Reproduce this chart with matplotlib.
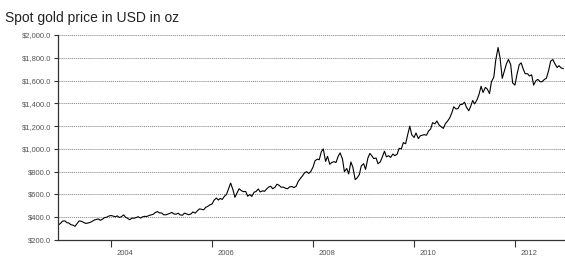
import pandas as pd
import numpy as np
import matplotlib
matplotlib.use('Agg')
import matplotlib.pyplot as plt

# semi-monthly spot gold price (USD/oz)
p2002 = [331]
p2003 = [347, 366, 368, 352, 350, 335, 330, 320, 345, 368, 364, 356,
         346, 348, 354, 362, 375, 380, 385, 373, 384, 397, 400, 410]
p2004 = [415, 410, 404, 412, 398, 404, 420, 400, 389, 378, 393, 391,
         397, 405, 392, 403, 408, 406, 415, 420, 426, 440, 450, 438]
p2005 = [437, 422, 421, 427, 434, 442, 428, 427, 435, 420, 418, 436,
         428, 422, 429, 446, 436, 455, 473, 470, 465, 486, 496, 508]
p2006 = [517, 550, 568, 551, 565, 556, 585, 600, 654, 700, 640, 575,
         615, 650, 633, 625, 626, 585, 599, 583, 620, 626, 648, 622]
p2007 = [632, 627, 650, 665, 672, 650, 663, 690, 680, 664, 664, 655,
         650, 666, 670, 660, 672, 712, 740, 760, 790, 800, 785, 800]
p2008 = [840, 895, 910, 905, 975, 1000, 890, 935, 865, 880, 888, 880,
         935, 965, 912, 800, 828, 780, 885, 840, 730, 745, 775, 850]
p2009 = [870, 820, 920, 960, 940, 915, 920, 870, 885, 925, 980, 930,
         940, 925, 955, 940, 955, 1005, 1000, 1055, 1045, 1120, 1200, 1125]
p2010 = [1100, 1140, 1090, 1115, 1120, 1125, 1120, 1155, 1175, 1230, 1220, 1245,
         1210, 1195, 1180, 1220, 1245, 1270, 1315, 1370, 1350, 1355, 1390, 1390]
p2011 = [1410, 1365, 1335, 1375, 1425, 1395, 1430, 1475, 1550, 1495, 1540, 1525,
         1485, 1590, 1630, 1780, 1890, 1800, 1620, 1680, 1750, 1785, 1740, 1580]
p2012 = [1560, 1650, 1740, 1755, 1700, 1660, 1660, 1640, 1650, 1560, 1600, 1610,
         1590, 1590, 1610, 1620, 1690, 1770, 1785, 1750, 1715, 1730, 1710, 1705]

prices = p2002 + p2003 + p2004 + p2005 + p2006 + p2007 + p2008 + p2009 + p2010 + p2011 + p2012
dates = pd.date_range('2002-12-15', periods=len(prices), freq='SMS')

y_ticks = [200, 400, 600, 800, 1000, 1200, 1400, 1600, 1800, 2000]
x_years = [2004, 2006, 2008, 2010, 2012]

plt.rcParams['font.family'] = ['Liberation Sans', 'DejaVu Sans']

fig = plt.figure(figsize=(5.65, 2.61), dpi=100)
ax = fig.add_axes([58 / 565, 1 - 240 / 261, 507 / 565, 205 / 261])

ax.plot(dates, prices, color='black', linewidth=0.8)

ax.set_ylim(200, 2000)
ax.set_xlim(pd.Timestamp('2002-12-13'), pd.Timestamp('2012-12-28'))

ax.set_yticks(y_ticks)
ax.set_yticklabels(['${:,.1f}'.format(v) for v in y_ticks], fontsize=5.5, color='#555555')
ax.yaxis.grid(True, linestyle=(0, (1.6, 1.2)), color='#666666', linewidth=0.5)

# tick marks on Jan 1, labels sit a bit to the right of them
ax.set_xticks([pd.Timestamp(f'{y}-01-01') for y in x_years])
ax.set_xticklabels([])
ax.set_xticks([pd.Timestamp(f'{y}-04-12') for y in x_years], minor=True)
ax.set_xticklabels([str(y) for y in x_years], minor=True, fontsize=5.5, color='#555555')

ax.tick_params(axis='x', which='major', length=5, width=0.8, color='#333333')
ax.tick_params(axis='x', which='minor', length=0, pad=7)
ax.tick_params(axis='y', length=3, width=0.8, color='#333333', pad=2)

for s in ['top', 'right']:
    ax.spines[s].set_visible(False)
for s in ['left', 'bottom']:
    ax.spines[s].set_color('#333333')
    ax.spines[s].set_linewidth(0.9)

fig.text(5 / 565, 1 - 18 / 261, 'Spot gold price in USD in oz', fontsize=10,
         color='#222222', va='center', ha='left')

fig.savefig('out.png', dpi=100, facecolor='white')
